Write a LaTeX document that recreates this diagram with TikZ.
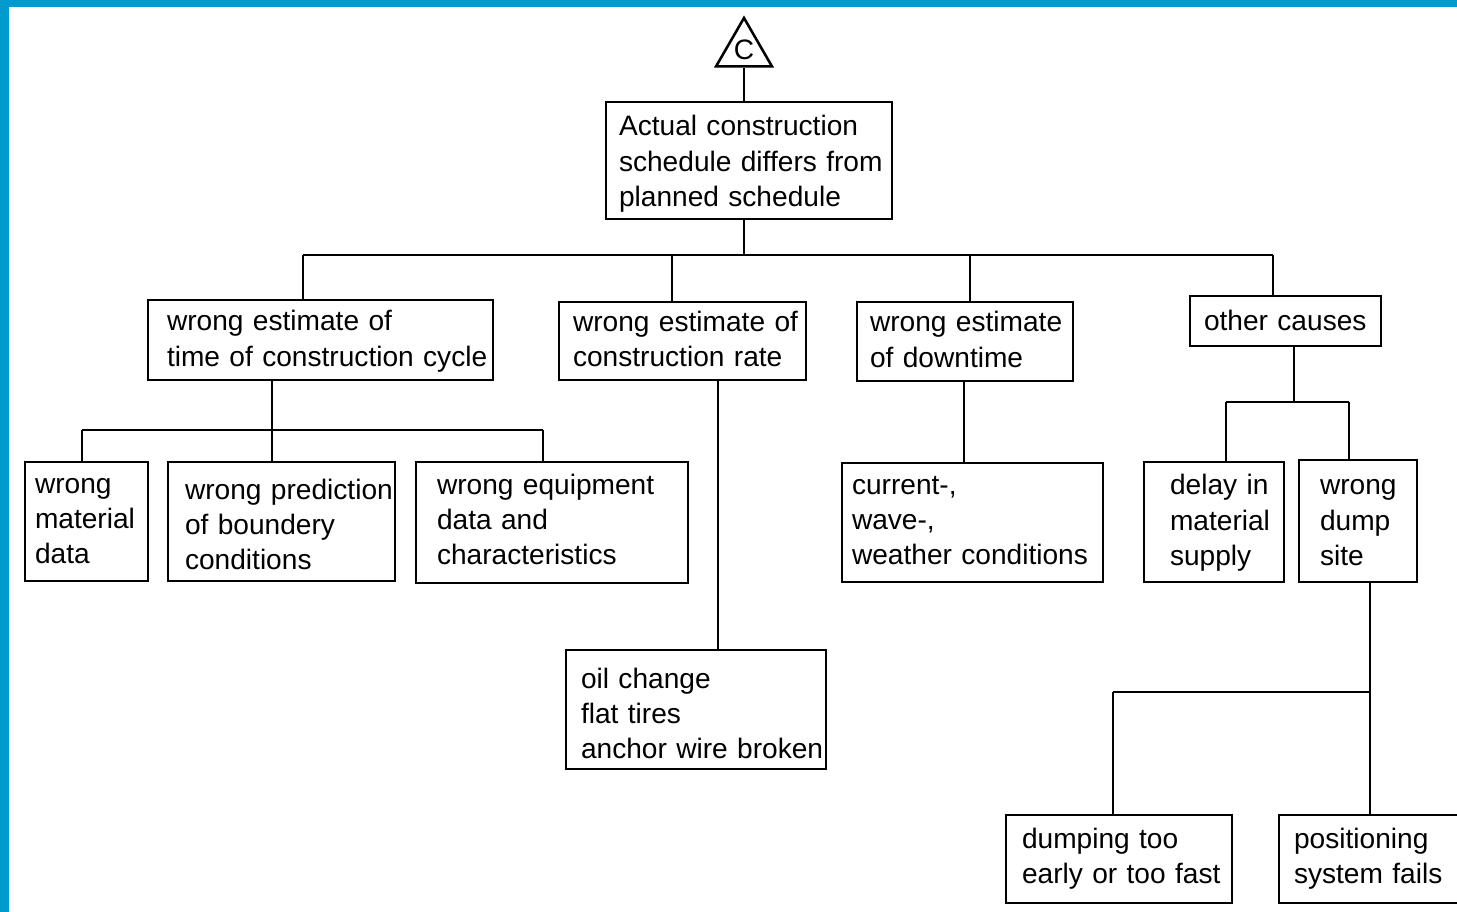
\documentclass[tikz,border=0pt]{standalone}
\usepackage{fontspec}
\setmainfont{Liberation Sans}
\usetikzlibrary{shapes.geometric, calc}

\definecolor{framebar}{RGB}{0,155,206}
% optional argument lowers the lines inside their box
\newcommand{\causelines}[2][0pt]{\raisebox{-#1}[\height][\depth]{\begin{tabular}{@{}l@{}}#2\end{tabular}}}

\tikzset{
	causebox/.style n args={3}{draw, line width=1.45pt, rectangle,
		minimum width=#1*0.02cm, minimum height=#2*0.02cm,
		text width=#1*0.02cm-2*#3*0.02cm, inner xsep=#3*0.02cm, inner ysep=0pt,
		align=left, font=\fontsize{16}{20}\selectfont},
	gatebox/.style={draw, line width=1.45pt, regular polygon, regular polygon sides=3,
		minimum size=1.294cm, inner sep=0pt, font=\fontsize{16}{20}\selectfont},
	link/.style={line width=1.45pt}
}

\begin{document}
\begin{tikzpicture}[x=0.02cm, y=-0.02cm]
	\useasboundingbox (0,0) rectangle (1457,912);
	\fill[framebar] (0,0) rectangle (1457,7);
	\fill[framebar] (0,0) rectangle (9,912);

	% top event
	\node[gatebox] (gate) at (744,50.3) {\raisebox{1pt}{C}};
	\node[causebox={286}{117}{13}] (top) at (749,160.5) {\causelines[0.07cm]{Actual construction\\ schedule differs from\\ planned schedule}};

	% first level
	\node[causebox={345}{80}{19}] (est1) at (320.5,340) {\causelines[0.03cm]{wrong estimate of\\ time of construction cycle}};
	\node[causebox={247}{78}{14}] (est2) at (682.5,341) {\causelines[0.02cm]{wrong estimate of\\ construction rate}};
	\node[causebox={216}{79}{13}] (est3) at (965,341.5) {\causelines[0.02cm]{wrong estimate\\ of downtime}};
	\node[causebox={191}{50}{14}] (other) at (1285.5,321) {\causelines[0.04cm]{other causes}};

	% second level
	\node[causebox={123}{119}{10}] (material) at (86.5,521.5) {\causelines{wrong\\ material\\ data}};
	\node[causebox={227}{119}{17}] (boundary) at (281.5,521.5) {\causelines[0.12cm]{wrong prediction\\ of boundery\\ conditions}};
	\node[causebox={272}{121}{21}] (equipment) at (552,522.5) {\causelines{wrong equipment\\ data and\\ characteristics}};
	\node[causebox={260}{119}{15}] (breakdown) at (696,709.5) {\causelines[0.14cm]{oil change\\ flat tires\\ anchor wire broken}};
	\node[causebox={261}{119}{10}] (weather) at (972.5,522.5) {\causelines{current-,\\ wave-,\\ weather conditions}};
	\node[causebox={140}{120}{26}] (supply) at (1214,522) {\causelines[0.02cm]{delay in\\ material\\ supply}};
	\node[causebox={118}{122}{21}] (dumpsite) at (1358,521) {\causelines[0.04cm]{wrong\\ dump\\ site}};

	% third level
	\node[causebox={226}{88}{16}] (dumping) at (1119,859) {\causelines{dumping too\\ early or too fast}};
	\node[causebox={191}{88}{15}] (positioning) at (1374.5,859) {\causelines{positioning\\ system fails}};

	% junctions
	\coordinate (b0) at (744,255);
	\coordinate (b1) at (303,255);
	\coordinate (b2) at (672,255);
	\coordinate (b3) at (970,255);
	\coordinate (b4) at (1273,255);
	\coordinate (c0) at (272,430);
	\coordinate (c1) at (82,430);
	\coordinate (c3) at (543,430);
	\coordinate (d0) at (718,500);
	\coordinate (e0) at (964,420);
	\coordinate (f0) at (1294,402);
	\coordinate (f1) at (1226,402);
	\coordinate (f2) at (1349,402);
	\coordinate (g0) at (1370,692);
	\coordinate (g1) at (1113,692);

	% connectors
	\draw[link] (gate.side 2) -- (gate.side 2 |- top.north);
	\draw[link] (b0 |- top.south) -- (b0);
	\draw[link] (b1) -- (b4);
	\foreach \b/\n in {b1/est1, b2/est2, b3/est3, b4/other}
		\draw[link] (\b) -- (\b |- \n.north);

	\draw[link] (c0 |- est1.south) -- (c0);
	\draw[link] (c1) -- (c3);
	\foreach \b/\n in {c1/material, c0/boundary, c3/equipment}
		\draw[link] (\b) -- (\b |- \n.north);

	\draw[link] (d0 |- est2.south) -- (d0 |- breakdown.north);
	\draw[link] (e0 |- est3.south) -- (e0 |- weather.north);

	\draw[link] (f0 |- other.south) -- (f0);
	\draw[link] (f1) -- (f2);
	\foreach \b/\n in {f1/supply, f2/dumpsite}
		\draw[link] (\b) -- (\b |- \n.north);

	\draw[link] (g0 |- dumpsite.south) -- (g0);
	\draw[link] (g1) -- (g0);
	\foreach \b/\n in {g1/dumping, g0/positioning}
		\draw[link] (\b) -- (\b |- \n.north);
\end{tikzpicture}
\end{document}
